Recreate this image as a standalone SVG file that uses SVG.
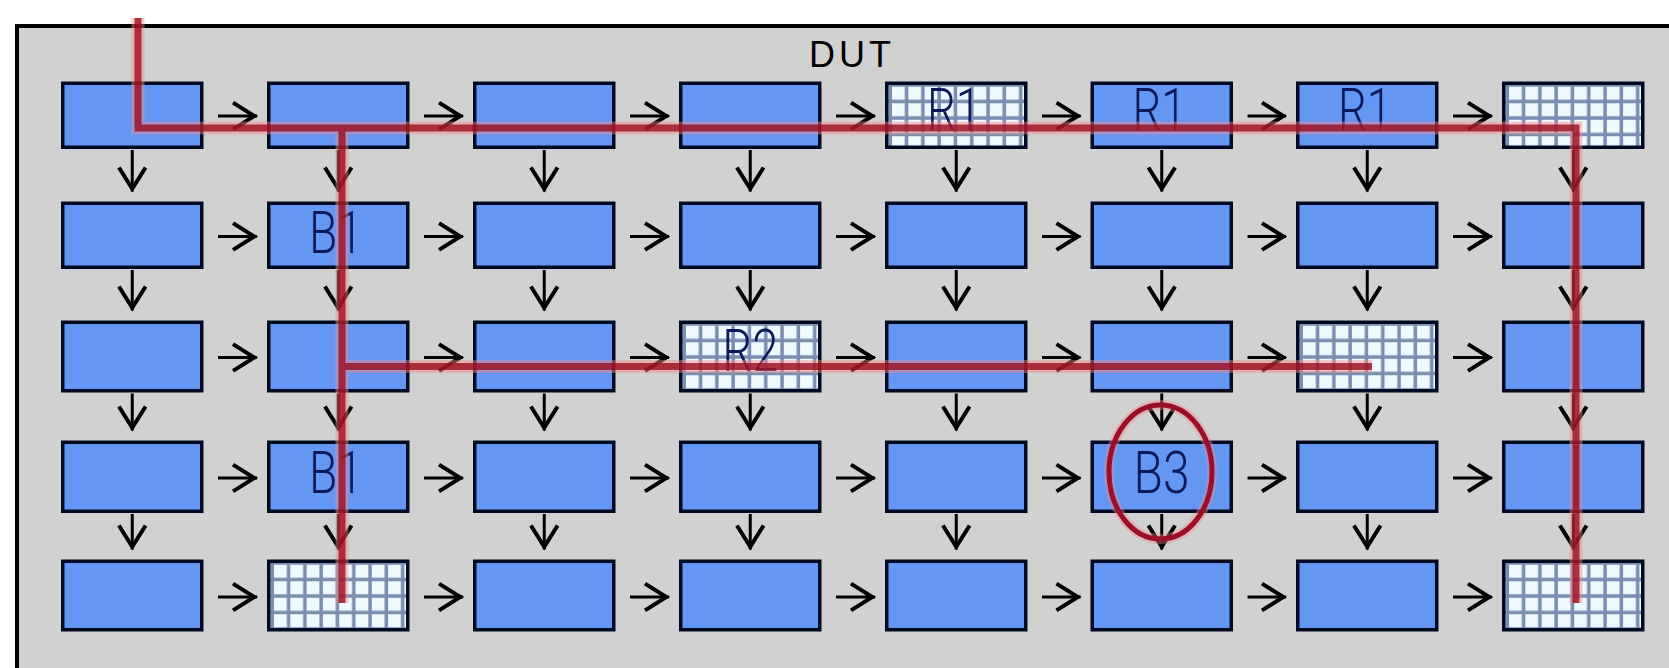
<svg xmlns="http://www.w3.org/2000/svg" width="1669" height="668" viewBox="0 0 1669 668">
<style>
.box{fill:#6496f4;stroke:#000a22;stroke-width:3.5}
.grid{fill:url(#grid);stroke:#000a22;stroke-width:3.5}
.lbl{font-family:Roboto,"Liberation Sans",Arial,sans-serif;font-weight:300;font-size:59px;fill:#0c1a5c;text-anchor:middle}
.title{font-family:"Liberation Sans",Arial,sans-serif;font-size:36px;fill:#000}
.arr{fill:none;stroke:#000;stroke-width:3;marker-end:url(#ah)}
</style>
<defs>
<pattern id="grid" patternUnits="userSpaceOnUse" x="7" y="5.25" width="16.3" height="16.5">
<rect width="16.3" height="16.5" fill="#eefaff"/>
<rect x="12.8" width="3.5" height="16.5" fill="#7b8db0"/>
<rect y="13" width="16.3" height="3.5" fill="#7b8db0"/>
</pattern>
<marker id="ah" markerUnits="userSpaceOnUse" markerWidth="40" markerHeight="40" viewBox="-25 -15 30 30" refX="0" refY="0" orient="auto" overflow="visible">
<path d="M-18,-10 L-2,0 L-18,10" fill="none" stroke="#000" stroke-width="3"/>
</marker>
</defs>
<rect width="1669" height="668" fill="#fff"/>
<rect id="frame" x="17" y="26" width="1700" height="700" fill="#d1d1d1" stroke="#000" stroke-width="4"/>
<text class="title" x="809" y="66.5" textLength="82" lengthAdjust="spacing">DUT</text>

<g id="connectors">
<path class="arr" d="M218 116H257"/><path class="arr" d="M424 116H463"/><path class="arr" d="M630 116H669"/><path class="arr" d="M836 116H875"/><path class="arr" d="M1042 116H1080.5"/><path class="arr" d="M1247.5 116H1286"/><path class="arr" d="M1453 116H1492"/>
<path class="arr" d="M218 236.5H257"/><path class="arr" d="M424 236.5H463"/><path class="arr" d="M630 236.5H669"/><path class="arr" d="M836 236.5H875"/><path class="arr" d="M1042 236.5H1080.5"/><path class="arr" d="M1247.5 236.5H1286"/><path class="arr" d="M1453 236.5H1492"/>
<path class="arr" d="M218 357.5H257"/><path class="arr" d="M424 357.5H463"/><path class="arr" d="M630 357.5H669"/><path class="arr" d="M836 357.5H875"/><path class="arr" d="M1042 357.5H1080.5"/><path class="arr" d="M1247.5 357.5H1286"/><path class="arr" d="M1453 357.5H1492"/>
<path class="arr" d="M218 478H257"/><path class="arr" d="M424 478H463"/><path class="arr" d="M630 478H669"/><path class="arr" d="M836 478H875"/><path class="arr" d="M1042 478H1080.5"/><path class="arr" d="M1247.5 478H1286"/><path class="arr" d="M1453 478H1492"/>
<path class="arr" d="M218 597H257"/><path class="arr" d="M424 597H463"/><path class="arr" d="M630 597H669"/><path class="arr" d="M836 597H875"/><path class="arr" d="M1042 597H1080.5"/><path class="arr" d="M1247.5 597H1286"/><path class="arr" d="M1453 597H1492"/>

<path class="arr" d="M132.25 150V191.5"/><path class="arr" d="M132.25 270V310.5"/><path class="arr" d="M132.25 393.5V430.5"/><path class="arr" d="M132.25 514V549.5"/>
<path class="arr" d="M338.25 150V191.5"/><path class="arr" d="M338.25 270V310.5"/><path class="arr" d="M338.25 393.5V430.5"/><path class="arr" d="M338.25 514V549.5"/>
<path class="arr" d="M544.25 150V191.5"/><path class="arr" d="M544.25 270V310.5"/><path class="arr" d="M544.25 393.5V430.5"/><path class="arr" d="M544.25 514V549.5"/>
<path class="arr" d="M750.25 150V191.5"/><path class="arr" d="M750.25 270V310.5"/><path class="arr" d="M750.25 393.5V430.5"/><path class="arr" d="M750.25 514V549.5"/>
<path class="arr" d="M956.25 150V191.5"/><path class="arr" d="M956.25 270V310.5"/><path class="arr" d="M956.25 393.5V430.5"/><path class="arr" d="M956.25 514V549.5"/>
<path class="arr" d="M1161.75 150V191.5"/><path class="arr" d="M1161.75 270V310.5"/><path class="arr" d="M1161.75 393.5V430.5"/><path class="arr" d="M1161.75 514V549.5"/>
<path class="arr" d="M1367.25 150V191.5"/><path class="arr" d="M1367.25 270V310.5"/><path class="arr" d="M1367.25 393.5V430.5"/><path class="arr" d="M1367.25 514V549.5"/>
<path class="arr" d="M1573.25 150V191.5"/><path class="arr" d="M1573.25 270V310.5"/><path class="arr" d="M1573.25 393.5V430.5"/><path class="arr" d="M1573.25 514V549.5"/>
</g>

<g id="nodes">
<g id="n-0-0" transform="translate(61 81.5)"><rect class="box" x="1.75" y="1.75" width="139" height="64"/></g>
<g id="n-0-1" transform="translate(267 81.5)"><rect class="box" x="1.75" y="1.75" width="139" height="64"/></g>
<g id="n-0-2" transform="translate(473 81.5)"><rect class="box" x="1.75" y="1.75" width="139" height="64"/></g>
<g id="n-0-3" transform="translate(679 81.5)"><rect class="box" x="1.75" y="1.75" width="139" height="64"/></g>
<g id="n-0-4" transform="translate(885 81.5)"><rect class="grid" x="1.75" y="1.75" width="139" height="64"/><text class="lbl" x="69" y="48.5" textLength="54" lengthAdjust="spacingAndGlyphs">R1</text></g>
<g id="n-0-5" transform="translate(1090.5 81.5)"><rect class="box" x="1.75" y="1.75" width="139" height="64"/><text class="lbl" x="69" y="48.5" textLength="54" lengthAdjust="spacingAndGlyphs">R1</text></g>
<g id="n-0-6" transform="translate(1296 81.5)"><rect class="box" x="1.75" y="1.75" width="139" height="64"/><text class="lbl" x="69" y="48.5" textLength="54" lengthAdjust="spacingAndGlyphs">R1</text></g>
<g id="n-0-7" transform="translate(1502 81.5)"><rect class="grid" x="1.75" y="1.75" width="139" height="64"/></g>

<g id="n-1-0" transform="translate(61 201.5)"><rect class="box" x="1.75" y="1.75" width="139" height="64"/></g>
<g id="n-1-1" transform="translate(267 201.5)"><rect class="box" x="1.75" y="1.75" width="139" height="64"/><text class="lbl" x="69" y="51.5" textLength="54" lengthAdjust="spacingAndGlyphs">B1</text></g>
<g id="n-1-2" transform="translate(473 201.5)"><rect class="box" x="1.75" y="1.75" width="139" height="64"/></g>
<g id="n-1-3" transform="translate(679 201.5)"><rect class="box" x="1.75" y="1.75" width="139" height="64"/></g>
<g id="n-1-4" transform="translate(885 201.5)"><rect class="box" x="1.75" y="1.75" width="139" height="64"/></g>
<g id="n-1-5" transform="translate(1090.5 201.5)"><rect class="box" x="1.75" y="1.75" width="139" height="64"/></g>
<g id="n-1-6" transform="translate(1296 201.5)"><rect class="box" x="1.75" y="1.75" width="139" height="64"/></g>
<g id="n-1-7" transform="translate(1502 201.5)"><rect class="box" x="1.75" y="1.75" width="139" height="64"/></g>

<g id="n-2-0" transform="translate(61 320.5)"><rect class="box" x="1.75" y="1.75" width="139" height="68.5"/></g>
<g id="n-2-1" transform="translate(267 320.5)"><rect class="box" x="1.75" y="1.75" width="139" height="68.5"/></g>
<g id="n-2-2" transform="translate(473 320.5)"><rect class="box" x="1.75" y="1.75" width="139" height="68.5"/></g>
<g id="n-2-3" transform="translate(679 320.5)"><rect class="grid" x="1.75" y="1.75" width="139" height="68.5"/><text class="lbl" x="71.25" y="50.5" textLength="56" lengthAdjust="spacingAndGlyphs">R2</text></g>
<g id="n-2-4" transform="translate(885 320.5)"><rect class="box" x="1.75" y="1.75" width="139" height="68.5"/></g>
<g id="n-2-5" transform="translate(1090.5 320.5)"><rect class="box" x="1.75" y="1.75" width="139" height="68.5"/></g>
<g id="n-2-6" transform="translate(1296 320.5)"><rect class="grid" x="1.75" y="1.75" width="139" height="68.5"/></g>
<g id="n-2-7" transform="translate(1502 320.5)"><rect class="box" x="1.75" y="1.75" width="139" height="68.5"/></g>

<g id="n-3-0" transform="translate(61 440.5)"><rect class="box" x="1.75" y="1.75" width="139" height="69"/></g>
<g id="n-3-1" transform="translate(267 440.5)"><rect class="box" x="1.75" y="1.75" width="139" height="69"/><text class="lbl" x="69" y="52" textLength="54" lengthAdjust="spacingAndGlyphs">B1</text></g>
<g id="n-3-2" transform="translate(473 440.5)"><rect class="box" x="1.75" y="1.75" width="139" height="69"/></g>
<g id="n-3-3" transform="translate(679 440.5)"><rect class="box" x="1.75" y="1.75" width="139" height="69"/></g>
<g id="n-3-4" transform="translate(885 440.5)"><rect class="box" x="1.75" y="1.75" width="139" height="69"/></g>
<g id="n-3-5" transform="translate(1090.5 440.5)"><rect class="box" x="1.75" y="1.75" width="139" height="69"/><text class="lbl" x="71" y="52" textLength="56" lengthAdjust="spacingAndGlyphs">B3</text></g>
<g id="n-3-6" transform="translate(1296 440.5)"><rect class="box" x="1.75" y="1.75" width="139" height="69"/></g>
<g id="n-3-7" transform="translate(1502 440.5)"><rect class="box" x="1.75" y="1.75" width="139" height="69"/></g>

<g id="n-4-0" transform="translate(61 559.5)"><rect class="box" x="1.75" y="1.75" width="139" height="68.5"/></g>
<g id="n-4-1" transform="translate(267 559.5)"><rect class="grid" x="1.75" y="1.75" width="139" height="68.5"/></g>
<g id="n-4-2" transform="translate(473 559.5)"><rect class="box" x="1.75" y="1.75" width="139" height="68.5"/></g>
<g id="n-4-3" transform="translate(679 559.5)"><rect class="box" x="1.75" y="1.75" width="139" height="68.5"/></g>
<g id="n-4-4" transform="translate(885 559.5)"><rect class="box" x="1.75" y="1.75" width="139" height="68.5"/></g>
<g id="n-4-5" transform="translate(1090.5 559.5)"><rect class="box" x="1.75" y="1.75" width="139" height="68.5"/></g>
<g id="n-4-6" transform="translate(1296 559.5)"><rect class="box" x="1.75" y="1.75" width="139" height="68.5"/></g>
<g id="n-4-7" transform="translate(1502 559.5)"><rect class="grid" x="1.75" y="1.75" width="139" height="68.5"/></g>
</g>

<g id="highlight" fill="none" stroke-linejoin="miter" stroke-linecap="butt">
<path d="M138 18V128H1576V603M342 128V603M342 366.5H1372" stroke="#f58a8a" stroke-width="13" opacity="0.45"/>
<path d="M138 18V128H1576V603M342 128V603M342 366.5H1372" stroke="#9a0818" stroke-width="7" opacity="0.78"/>
<ellipse cx="1160.5" cy="472" rx="51.5" ry="67" stroke="#f58a8a" stroke-width="10" opacity="0.4"/>
<ellipse cx="1160.5" cy="472" rx="51.5" ry="67" stroke="#9a1028" stroke-width="5"/>
</g>
</svg>
